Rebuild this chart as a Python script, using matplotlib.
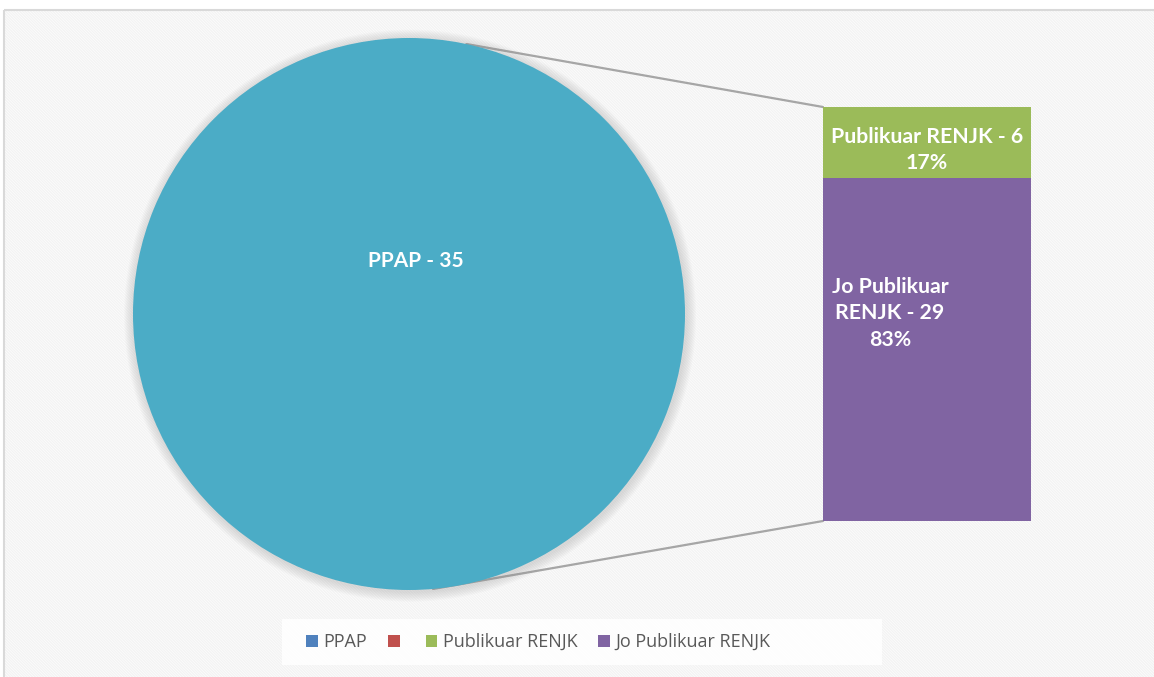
import numpy as np
import matplotlib.pyplot as plt
from matplotlib.patches import Rectangle, Patch, Circle, ConnectionPatch

# data
pie_labels = ['PPAP', '']
pie_values = [35, 0]
bar_labels = ['Jo Publikuar RENJK', 'Publikuar RENJK']
bar_values = [29, 6]
legend_names = ['PPAP', '', 'Publikuar RENJK', 'Jo Publikuar RENJK']
legend_colors = ['#4F81BD', '#C0504D', '#9BBB59', '#8064A2']

pie_color = '#4BACC6'
bar_colors = ['#8064A2', '#9BBB59']

plt.rcParams['hatch.linewidth'] = 1.0
W, H = 1154, 677
fig = plt.figure(figsize=(W / 100, H / 100), dpi=100)

# background with diagonal texture and frame
bg = fig.add_axes([0, 0, 1, 1], zorder=-5)
bg.set_xlim(0, W)
bg.set_ylim(H, 0)
bg.axis('off')
bg.add_patch(Rectangle((3.5, 9.5), 1300, 800, facecolor='white',
                       edgecolor='#f3f3f3', hatch='\\' * 12, lw=0))
bg.add_patch(Rectangle((3.5, 9.5), 1300, 800, facecolor='none',
                       edgecolor='#d9d9d9', lw=1.5))
# legend box (wider than its entries, as in the original)
bg.add_patch(Rectangle((282, 619), 600, 46, facecolor='white', alpha=0.85,
                       edgecolor='none'))

# pie
cx, cy, r = 409, 314, 276
pax = fig.add_axes([(cx - r * 1.05) / W, 1 - (cy + r * 1.05) / H, 2.1 * r / W, 2.1 * r / H])
for k in range(1, 10):
    pax.add_patch(Circle((0.004, -0.006), 1 + k * 0.004, color='#888888',
                         alpha=0.03, lw=0, zorder=0))
pax.pie(pie_values, colors=[pie_color, '#C0504D'], radius=1, startangle=90,
        counterclock=False, wedgeprops=dict(linewidth=0))
pax.set_xlim(-1.05, 1.05)
pax.set_ylim(-1.05, 1.05)
pax.text(0.025, 0.192, f'{pie_labels[0]} - {pie_values[0]}', ha='center', va='center',
         color='white', fontsize=15, fontweight='bold', family='Lato')
pax.axis('off')

# bar
bx0, bx1, by0, by1 = 823, 1031, 107, 521
bax = fig.add_axes([bx0 / W, 1 - by1 / H, (bx1 - bx0) / W, (by1 - by0) / H])
total = sum(bar_values)
bottom = 0
for val, col in zip(bar_values, bar_colors):
    bax.bar(0, val, width=1, bottom=bottom, color=col, lw=0)
    bottom += val
bax.set_xlim(-0.5, 0.5)
bax.set_ylim(0, total)
bax.axis('off')

pct = [v / total * 100 for v in bar_values]
bax.text(0.0, bar_values[0] + bar_values[1] * 0.39,
         f'{bar_labels[1]} - {bar_values[1]}\n{pct[1]:.0f}%',
         ha='center', va='center', color='white', fontsize=15.3, fontweight='bold',
         family='Lato', linespacing=1.4)
bax.text(-0.178, bar_values[0] * 0.606,
         f'Jo Publikuar\nRENJK - {bar_values[0]}\n{pct[0]:.0f}%',
         ha='center', va='center', color='white', fontsize=15.3, fontweight='bold',
         family='Lato', linespacing=1.4)

# connector lines
a_top, a_bot = np.radians(78), np.radians(-85)
for ang, yb in [(a_top, total), (a_bot, 0)]:
    con = ConnectionPatch(xyA=(np.cos(ang), np.sin(ang)), coordsA=pax.transData,
                          xyB=(-0.5, yb), coordsB=bax.transData,
                          color='#a6a6a6', lw=1.6, zorder=-1)
    fig.add_artist(con)

# legend
handles = [Patch(facecolor=c, edgecolor='none') for c in legend_colors]
leg = fig.legend(handles, legend_names, loc='center left',
                 bbox_to_anchor=(290 / W, 1 - 642 / H),
                 ncol=4, frameon=False, handlelength=0.65, handleheight=0.65,
                 handletextpad=0.3, columnspacing=1.15,
                 prop=dict(family='Open Sans', size=13))
for t in leg.get_texts():
    t.set_color('#595959')

fig.savefig('out.png', dpi=100)
